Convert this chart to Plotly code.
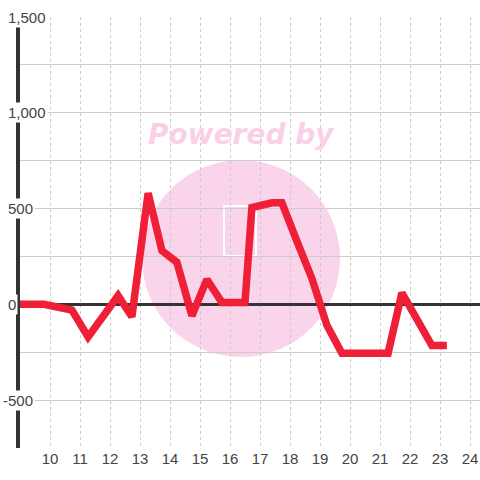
import plotly.graph_objects as go

# data
hours = [9.0, 9.8, 10.73, 11.27, 12.27, 12.73, 13.27, 13.73, 14.23, 14.73,
         15.23, 15.73, 16.5, 16.73, 17.4, 17.73, 18.23, 18.73, 19.23, 19.73,
         21.27, 21.73, 22.73, 23.23]
values = [0, 0, -30, -170, 45, -65, 580, 280, 220, -60,
          130, 10, 10, 505, 530, 530, 330, 135, -110, -255,
          -255, 60, -215, -215]

x_ticks = list(range(10, 25))
y_grid = list(range(-750, 1501, 250))
y_labels = [1500, 1000, 500, 0, -500]

FONT = "Arial, Liberation Sans, sans-serif"
BG = "#ffffff"


def px_x(p):
    # window pixel -> paper x (plot area spans 20..480)
    return (p - 20) / 460


def px_y(p):
    # window pixel -> paper y (plot area spans 17..448)
    return (448 - p) / 431


fig = go.Figure()

fig.add_trace(go.Scatter(
    x=hours, y=values,
    mode="lines",
    line=dict(color="#ee1f36", width=7.5),
    hoverinfo="skip",
    showlegend=False,
))

# watermark
fig.add_shape(
    type="circle", xref="paper", yref="paper",
    x0=px_x(142), x1=px_x(340), y0=px_y(357), y1=px_y(160),
    fillcolor="#fad4ea", line=dict(width=0), layer="below",
)
fig.add_shape(
    type="rect", xref="paper", yref="paper",
    x0=px_x(224), x1=px_x(256), y0=px_y(256), y1=px_y(206),
    line=dict(color="#ffffff", width=2), layer="below",
)
fig.add_annotation(
    text="<b><i>Powered by</i></b>", xref="paper", yref="paper",
    x=px_x(241), y=px_y(134), xanchor="center", yanchor="middle",
    showarrow=False, font=dict(family="DejaVu Sans, Verdana", size=28, color="#fbd0e7"),
)

# y tick labels, left aligned over the axis line (minus sign hangs left)
for v in y_labels:
    fig.add_annotation(
        text=f"{v:,}", xref="paper", yref="y",
        x=px_x(6 if v >= 0 else 1), y=v, xanchor="left", yanchor="middle",
        showarrow=False, bgcolor=BG, borderpad=1,
        font=dict(family=FONT, size=15, color="#444444"),
    )

fig.update_layout(
    width=480, height=480,
    margin=dict(l=20, r=0, t=17, b=32),
    paper_bgcolor=BG,
    plot_bgcolor=BG,
    xaxis=dict(
        range=[9, 9 + 460 / 30],
        tickvals=x_ticks,
        ticks="",
        showgrid=True,
        gridcolor="#cccccc",
        gridwidth=1,
        griddash="3px,3px",
        showline=False,
        zeroline=False,
        tickfont=dict(family=FONT, size=15, color="#444444"),
    ),
    yaxis=dict(
        range=[-750, 1500],
        tickvals=y_grid,
        showticklabels=False,
        ticks="",
        showgrid=True,
        gridcolor="#cccccc",
        gridwidth=1,
        zeroline=True,
        zerolinecolor="#333333",
        zerolinewidth=3,
        showline=True,
        linecolor="#333333",
        linewidth=4,
    ),
)

# page body has a default margin; drop it so the figure fills the window
fig.write_html(
    "out.html",
    config={"displayModeBar": False},
    post_script="document.body.style.margin='0';",
)
